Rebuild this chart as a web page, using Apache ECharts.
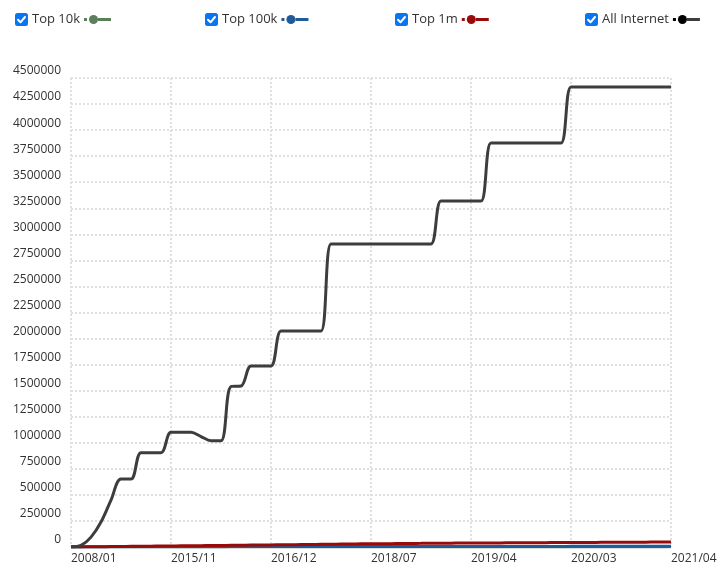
<!DOCTYPE html>
<html>
<head>
<meta charset="utf-8">
<script src="https://cdn.jsdelivr.net/npm/echarts@6/dist/echarts.min.js"></script>
<style>html,body{margin:0;padding:0;background:#fff}#c{width:726px;height:574px}</style>
</head>
<body>
<div id="c"></div>
<script>
const dates = [
 '2008/01/01','2008/10/01','2009/07/01','2010/04/01','2011/01/01','2011/10/01','2012/07/01','2013/04/01','2014/01/01','2014/10/01',
 '2015/11/01','2015/12/01','2016/02/01','2016/03/01','2016/04/01','2016/06/01','2016/07/01','2016/08/01','2016/09/01','2016/11/01',
 '2016/12/01','2017/02/01','2017/04/01','2017/06/01','2017/08/01','2017/10/01','2017/12/01','2018/01/01','2018/03/01','2018/05/01',
 '2018/07/01','2018/08/01','2018/09/01','2018/10/01','2018/11/01','2018/12/01','2019/01/01','2019/02/01','2019/03/01','2019/03/15',
 '2019/04/01','2019/05/01','2019/06/01','2019/07/01','2019/08/01','2019/09/01','2019/10/01','2019/11/01','2019/12/01','2020/01/01',
 '2020/03/01','2020/05/01','2020/06/01','2020/07/01','2020/08/01','2020/09/01','2020/10/01','2020/11/01','2021/01/01','2021/02/01',
 '2021/04/01'
];
const seriesNames = ['Top 10k','Top 100k','Top 1m','All Internet'];
const top10k = [
 0,50,100,150,200,250,300,350,400,450,
 500,520,540,560,580,600,620,640,660,680,
 700,720,740,760,780,800,820,840,860,880,
 900,910,920,930,940,950,960,970,980,990,
 1000,1010,1020,1030,1040,1050,1060,1070,1080,1090,
 1100,1110,1120,1130,1140,1150,1160,1170,1180,1190,1200
];
const top100k = [
 0,300,600,900,1200,1500,1800,2100,2400,2700,
 3000,3100,3200,3300,3400,3500,3600,3700,3800,3900,
 4000,4100,4200,4300,4400,4500,4600,4700,4800,4900,
 5000,5050,5100,5150,5200,5250,5300,5350,5400,5450,
 5500,5550,5600,5650,5700,5750,5800,5850,5900,5950,
 6000,6050,6100,6150,6200,6250,6300,6350,6400,6450,6500
];
const top1m = [
 0,1000,2000,3000,4000,5000,6000,7000,8000,9000,
 10000,11000,12000,13000,14000,15000,16000,17000,18000,19000,
 20000,21000,22000,23000,24000,26000,27000,28000,29000,30000,
 30500,31000,32000,33000,34000,35000,36000,36500,37000,37500,
 38000,38500,39000,39500,40000,40500,41000,41500,42000,42500,
 43000,43500,44000,44500,45000,45500,46000,46500,47000,47500,48000
];
const allInternet = [
 0,15000,95000,240000,450000,652000,652000,905000,905000,905000,
 1100000,1100000,1100000,1060000,1020000,1020000,1540000,1545000,1737000,1737000,
 1737000,2072000,2072000,2072000,2072000,2072000,2907000,2907000,2907000,2907000,
 2907000,2907000,2907000,2907000,2907000,2907000,2907000,3320000,3320000,3320000,
 3320000,3320000,3876000,3876000,3876000,3876000,3876000,3876000,3876000,3876000,
 4414000,4414000,4414000,4414000,4414000,4414000,4414000,4414000,4414000,4414000,4414000
];
const colors = ['#5b7f5b','#1f5b99','#990b0b','#3d3d3d'];
const dotColors = ['#5b7f5b','#1f5b99','#990b0b','#000000'];
const seriesData = [top10k, top100k, top1m, allInternet];

const checkSvg = "<svg xmlns='http://www.w3.org/2000/svg' width='13' height='13'><rect x='0' y='0' width='13' height='13' rx='2.5' fill='#0a75f0'/><path d='M3 6.8 L5.5 9.3 L10 4' stroke='white' stroke-width='2' fill='none' stroke-linecap='round' stroke-linejoin='round'/></svg>";
const checkIcon = 'image://data:image/svg+xml;charset=utf-8,' + encodeURIComponent(checkSvg);

const legendLefts = [15, 205, 395, 585];
const legends = seriesNames.map((name, i) => {
  const rich = {
    t: {fontFamily: 'Open Sans', fontSize: 13, color: '#333'},
    s: {width: 4},
    d: {width: 3, height: 3, backgroundColor: dotColors[i]},
    g: {width: 2},
    c: {width: 9, height: 9, borderRadius: 4.5, backgroundColor: dotColors[i]},
    l: {width: 13, height: 3, backgroundColor: colors[i]}
  };
  return {
    left: legendLefts[i], top: 13, padding: 0,
    data: [{name: name, icon: checkIcon}],
    itemWidth: 13, itemHeight: 13, itemGap: 0,
    selectedMode: false,
    formatter: n => '{t|' + n + '}{s| }{d| }{g| }{c| }{l| }',
    textStyle: {rich: rich, padding: [0,0,0,-1]}
  };
});

const chart = echarts.init(document.getElementById('c'), null, {renderer: 'canvas'});
chart.setOption({
  animation: false,
  legend: legends,
  grid: {left: 71, right: 55, top: 78, bottom: 27, containLabel: false},
  xAxis: {
    type: 'category',
    data: dates,
    boundaryGap: false,
    axisLine: {show: false},
    axisTick: {show: false},
    axisLabel: {
      interval: 9, align: 'left', margin: 6,
      fontFamily: 'Open Sans', fontSize: 12, color: '#333',
      formatter: v => v.slice(0, 7)
    },
    splitLine: {show: true, interval: 9, lineStyle: {type: [2, 2], width: 2, color: '#e0e0e0'}}
  },
  yAxis: {
    type: 'value', min: 0, max: 4500000, interval: 250000,
    axisLine: {show: false},
    axisTick: {show: false},
    axisLabel: {
      fontFamily: 'Open Sans', fontSize: 12, color: '#333', margin: 10,
      verticalAlign: 'bottom', lineHeight: 14,
      formatter: v => String(v)
    },
    splitLine: {show: true, lineStyle: {type: [2, 2], width: 2, color: '#e0e0e0'}}
  },
  series: seriesNames.map((name, i) => ({
    name: name, type: 'line', data: seriesData[i],
    smooth: 0.35, showSymbol: false, symbol: 'none',
    lineStyle: {width: 3, color: colors[i]},
    itemStyle: {color: colors[i]},
    z: i === 3 ? 5 : 3
  }))
});
</script>
</body>
</html>
